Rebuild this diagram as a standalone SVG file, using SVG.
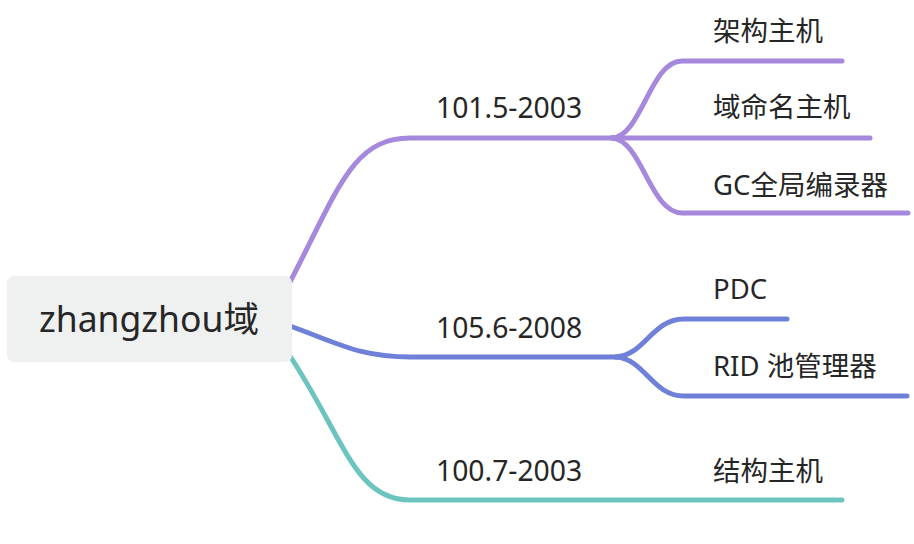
<svg xmlns="http://www.w3.org/2000/svg" width="914" height="544" viewBox="0 0 914 544">
<style>
.t{font-family:"Noto Sans","Noto Sans CJK SC",sans-serif;fill:#262626;}
.lbl{font-size:27.5px;}
.num{font-size:28.3px;}
.root{font-size:35.5px;}
.c{fill:none;stroke-width:5;stroke-linecap:round;}
.p{stroke:#a688dd;}
.b{stroke:#6f80d8;}
.g{stroke:#6cc4bf;}
</style>
<rect width="914" height="544" fill="#ffffff"/>
<g id="connectors">
<path class="c p" d="M290,282 C338,190 352,138 410,138 L612,138"/>
<path class="c p" d="M612,138 C642,136 650,61 682,61 L842,61"/>
<path class="c p" d="M612,138 L870,138"/>
<path class="c p" d="M612,138 C642,140 650,213 682,213 L908,213"/>
<path class="c b" d="M290,326 C340,344 360,357 410,357 L616,357"/>
<path class="c b" d="M616,357 C645,355 652,319 684,319 L787,319"/>
<path class="c b" d="M616,357 C645,359 652,396 684,396 L907,396"/>
<path class="c g" d="M290,356 C345,440 355,500 410,500 L842,500"/>
</g>
<g id="root">
<rect x="7" y="276" width="285" height="86" rx="7" fill="#eff0f0"/>
<text class="t root" x="149" y="332" text-anchor="middle">zhangzhou域</text>
</g>
<g id="n1"><text class="t num" x="436" y="118">101.5-2003</text></g>
<g id="n1a"><text class="t lbl" x="713" y="41">架构主机</text></g>
<g id="n1b"><text class="t lbl" x="713" y="117">域命名主机</text></g>
<g id="n1c"><text class="t lbl" x="713" y="195">GC全局编录器</text></g>
<g id="n2"><text class="t num" x="436" y="338">105.6-2008</text></g>
<g id="n2a"><text class="t lbl" x="713" y="299">PDC</text></g>
<g id="n2b"><text class="t lbl" x="713" y="376">RID 池管理器</text></g>
<g id="n3"><text class="t num" x="436" y="481">100.7-2003</text></g>
<g id="n3a"><text class="t lbl" x="713" y="481">结构主机</text></g>
</svg>
